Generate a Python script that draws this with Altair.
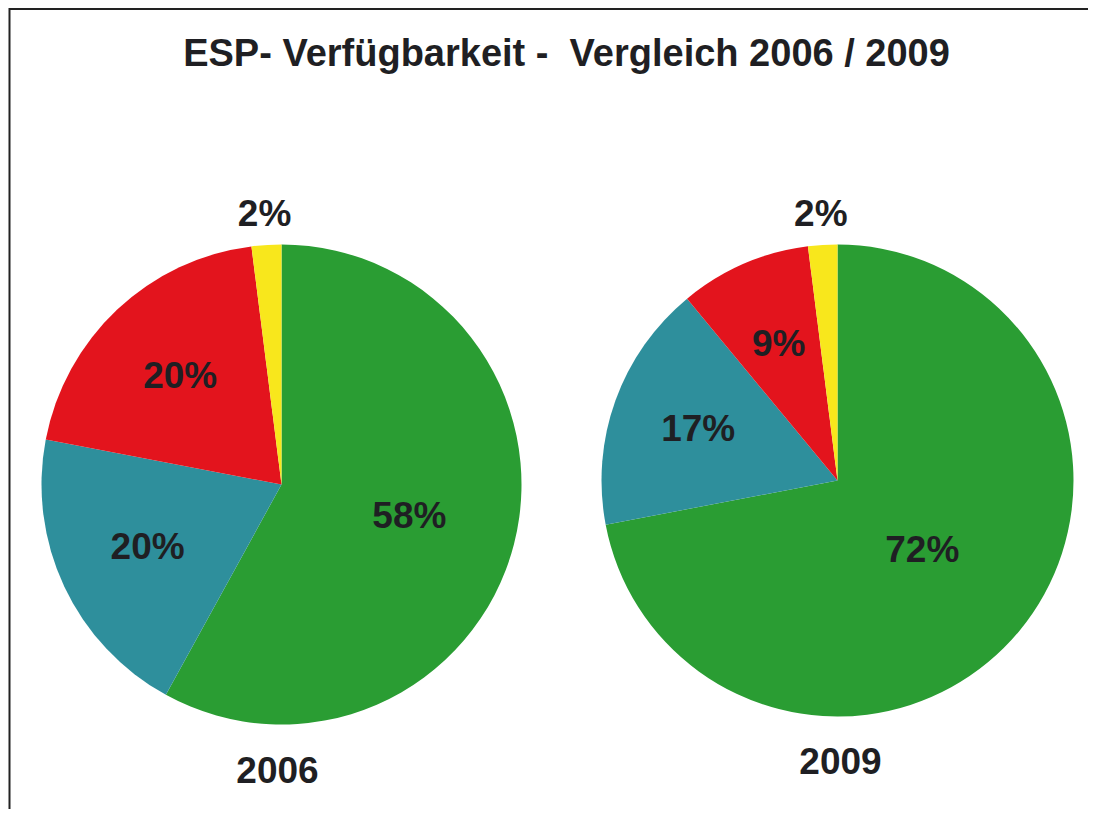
import altair as alt
import pandas as pd

title_text = "ESP- Verfügbarkeit -\u00a0 Vergleich 2006 / 2009"
years = ["2006", "2009"]
categories = ["Kategorie A", "Kategorie B", "Kategorie C", "Kategorie D"]
values_2006 = [58, 20, 20, 2]
values_2009 = [72, 17, 9, 2]
colors = ["#2a9d33", "#2e8f9c", "#e3141d", "#f8e71c"]

FONT = "Liberation Sans"
TXT = "#1f1f23"
W, H = 1080, 801

color_scale = alt.Scale(domain=categories, range=colors)

def pie_df(vals):
    return pd.DataFrame({
        "cat": categories,
        "pct": vals,
        "idx": list(range(len(vals))),
        "label": [f"{v}%" for v in vals],
    })

# year, values, center x, center y, radius, big-label radius, year-label x, year-label baseline
pies = [
    (years[0], values_2006, 273.5, 476.5, 240, 132, 269.5, 775),
    (years[1], values_2009, 829.5, 472.5, 236, 110, 832.5, 766),
]

layers = []

frame_data = alt.Data(values=[{"a": 1}])
layers.append(alt.Chart(frame_data).mark_rule(color="#222222", strokeWidth=2).encode(
    x=alt.value(1), x2=alt.value(W), y=alt.value(1)))
layers.append(alt.Chart(frame_data).mark_rule(color="#222222", strokeWidth=2).encode(
    x=alt.value(1.5), y=alt.value(0), y2=alt.value(H)))

layers.append(alt.Chart(alt.Data(values=[{"t": title_text}])).mark_text(
    font=FONT, fontSize=38, fontWeight="bold", color=TXT, align="center", baseline="alphabetic"
).encode(x=alt.value(558.5), y=alt.value(58), text="t:N"))

txt_style = dict(font=FONT, fontSize=37, fontWeight="bold", color=TXT,
                 align="center", baseline="middle")

for year, vals, cx, cy, r, rbig, yx, ybase in pies:
    df = pie_df(vals)
    base = alt.Chart(df).encode(
        theta=alt.Theta("pct:Q", stack=True),
        order=alt.Order("idx:Q"),
        x=alt.value(cx), y=alt.value(cy),
    )
    layers.append(base.mark_arc(radius=r).encode(
        color=alt.Color("cat:N", scale=color_scale, legend=None)))
    # label of the largest slice
    layers.append(base.mark_text(radius=rbig, **txt_style).encode(
        text=alt.condition("datum.pct >= 50", "label:N", alt.value(""))))
    # labels of medium slices
    layers.append(base.mark_text(radius=148, **txt_style).encode(
        text=alt.condition("datum.pct >= 5 && datum.pct < 50", "label:N", alt.value(""))))
    # labels of tiny slices, outside
    layers.append(base.mark_text(radius=r + 30, **txt_style).encode(
        text=alt.condition("datum.pct < 5", "label:N", alt.value(""))))
    layers.append(alt.Chart(alt.Data(values=[{"y": year}])).mark_text(
        font=FONT, fontSize=37, fontWeight="bold", color=TXT, align="center", baseline="alphabetic"
    ).encode(x=alt.value(yx), y=alt.value(ybase), text="y:N"))

chart = alt.layer(*layers).properties(
    width=W, height=H, padding=0, autosize="none"
).resolve_scale(theta="shared").configure_view(stroke=None)

chart.save("out.html", embed_options={"renderer": "svg", "actions": False})
